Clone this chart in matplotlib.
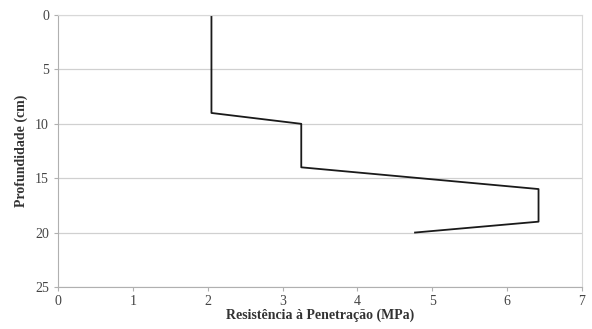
import matplotlib
matplotlib.use("Agg")
import matplotlib.pyplot as plt

depth_cm = [0, 9, 10, 14, 16, 19, 20]
resistance_mpa = [2.05, 2.05, 3.25, 3.25, 6.42, 6.42, 4.77]
x_ticks = [0, 1, 2, 3, 4, 5, 6, 7]
y_ticks = [0, 5, 10, 15, 20, 25]

plt.rcParams['font.family'] = ['Liberation Serif', 'DejaVu Serif']

fig = plt.figure(figsize=(5.92, 3.29), dpi=100)
ax = fig.add_axes([0.098, 0.128, 0.885, 0.826])

ax.plot(resistance_mpa, depth_cm, color='#1a1a1a', lw=1.3)
ax.set_xlim(0, 7)
ax.set_ylim(25, 0)
ax.set_xticks(x_ticks)
ax.set_yticks(y_ticks)
ax.yaxis.grid(True, color='#d0d0d0', lw=0.9)
ax.set_axisbelow(True)
for s in ['top', 'right']:
    ax.spines[s].set_color('#d8d8d8')
for s in ['left', 'bottom']:
    ax.spines[s].set_color('#b0b0b0')
ax.tick_params(axis='both', colors='#b0b0b0', labelcolor='#444444', labelsize=10, length=3)
ax.tick_params(axis='x', pad=3)
ax.set_xlabel('Resistência à Penetração (MPa)', fontsize=10, fontweight='bold', labelpad=0, color='#333333')
ax.set_ylabel('Profundidade (cm)', fontsize=10, fontweight='bold', labelpad=5, color='#333333')

fig.savefig('out.png', dpi=100)
